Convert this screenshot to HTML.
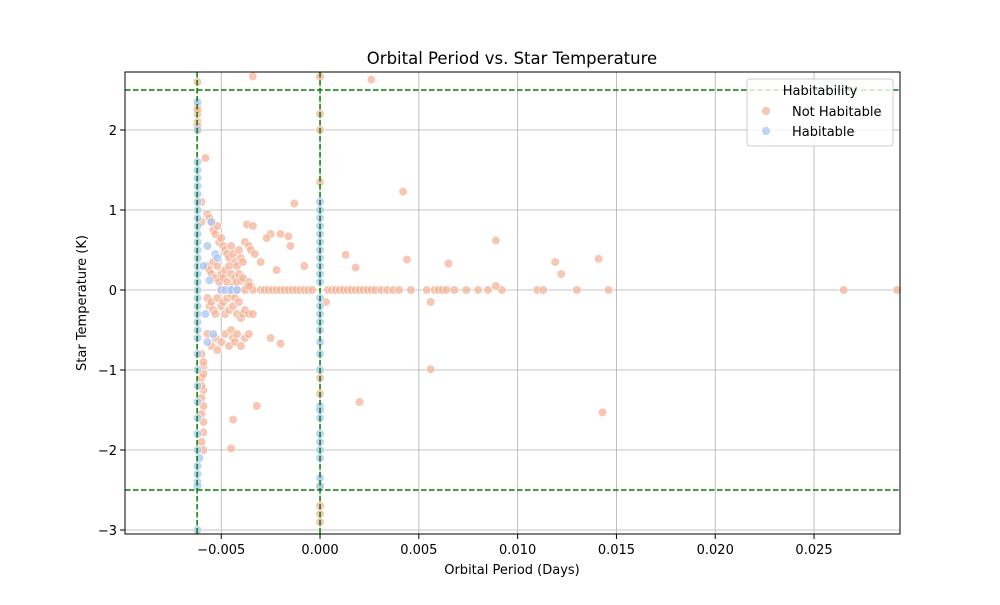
<!DOCTYPE html>
<html><head><meta charset="utf-8"><style>
body{margin:0;background:#fff;}
svg text{font-family:"DejaVu Sans","Liberation Sans",sans-serif;fill:#000;}
</style></head><body>
<svg id="chart" width="1000" height="600" xmlns="http://www.w3.org/2000/svg">
<rect width="1000" height="600" fill="#fff"/>
<g id="grid"></g>
<g id="pts"></g>
<g id="guides"></g>
<rect x="125" y="72" width="775" height="462" fill="none" stroke="#000" stroke-width="1"/>
<g id="xt"></g>
<g id="yt"></g>
<text x="512" y="64" font-size="16.5" text-anchor="middle">Orbital Period vs. Star Temperature</text>
<text x="512" y="574" font-size="13" text-anchor="middle">Orbital Period (Days)</text>
<text transform="translate(86,303) rotate(-90)" font-size="13" text-anchor="middle">Star Temperature (K)</text>
<g>
<rect x="747" y="79" width="146" height="67" rx="3" fill="#fff" fill-opacity="0.8" stroke="#ccc"/>
<text x="820" y="95" font-size="13" text-anchor="middle">Habitability</text>
<circle cx="766" cy="111" r="4.5" fill="#f4b49a" fill-opacity="0.75" stroke="#fff" stroke-width="0.8"/>
<text x="792" y="116" font-size="13">Not Habitable</text>
<circle cx="766" cy="131" r="4.5" fill="#aac7f5" fill-opacity="0.75" stroke="#fff" stroke-width="0.8"/>
<text x="792" y="136" font-size="13">Habitable</text>
</g>
</svg>
<script>
const xTicks=[-0.005,0,0.005,0.010,0.015,0.020,0.025];
const xTickLabels=["−0.005","0.000","0.005","0.010","0.015","0.020","0.025"];
const yTicks=[-3,-2,-1,0,1,2];
const yTickLabels=["−3","−2","−1","0","1","2"];
const vGuides=[-0.00622,0];
const hGuides=[2.5,-2.5];
const nhX=[-0.0062,-0.0062,-0.0062,-0.0062,-0.0062,-0.0058,-0.0060,-0.0060,-0.0059,-0.0060,-0.0059,-0.0060,-0.0059,-0.0060,-0.0059,-0.0059,-0.0060,-0.0059,-0.0060,-0.0059,-0.0060,-0.0059,-0.0062,-0.0062,
-0.0057,-0.0056,-0.0055,-0.0054,-0.0053,-0.0052,-0.0051,-0.0050,-0.0049,-0.0048,-0.0047,-0.0046,-0.0045,-0.0044,-0.0043,-0.0042,-0.0041,-0.0040,-0.0039,-0.0038,-0.0037,-0.0036,-0.0035,-0.0034,-0.0033,
-0.0057,-0.0056,-0.0055,-0.0054,-0.0053,-0.0052,-0.0051,-0.0050,-0.0049,-0.0048,-0.0047,-0.0046,-0.0045,-0.0044,-0.0043,-0.0042,-0.0041,-0.0040,-0.0039,-0.0037,-0.0036,-0.0035,
-0.0057,-0.0056,-0.0055,-0.0054,-0.0053,-0.0052,-0.0050,-0.0049,-0.0048,-0.0047,-0.0046,-0.0045,-0.0044,-0.0043,-0.0042,-0.0041,-0.0040,-0.0039,-0.0038,-0.0036,
-0.0057,-0.0055,-0.0053,-0.0052,-0.0050,-0.0048,-0.0046,-0.0045,-0.0044,-0.0043,-0.0042,-0.0040,-0.0038,-0.0036,
-0.0050,-0.0046,-0.0042,-0.0038,-0.0034,-0.0030,-0.0028,-0.0026,-0.0024,-0.0022,-0.0020,-0.0018,-0.0016,-0.0014,-0.0012,-0.0010,-0.0008,-0.0006,-0.0004,0.0004,0.0006,0.0008,0.0010,0.0012,0.0014,0.0016,0.0018,0.0020,0.0022,0.0024,0.0026,0.0028,0.0031,0.0034,0.0037,0.0040,0.0046,0.0054,0.0058,0.0060,0.0062,0.0064,0.0068,0.0074,0.0080,0.0085,0.0092,0.0110,0.0113,0.0130,0.0146,
-0.0034,0.0026,0,0,0,-0.0013,0.0042,-0.0025,-0.0020,-0.0015,-0.0022,0.0013,0.0018,0.0044,0.0065,0.0089,0.0119,0.0122,0.0141,0.0089,0.0056,0.0003,-0.0025,-0.0020,0.0056,0.0020,-0.0032,-0.0044,-0.0045,0.0143,0.0265,0.0292,0,0,0,0,0,0,0,-0.0008,-0.0016,-0.0027,-0.0030,-0.0034,-0.0036];
const nhY=[2.6,2.3,2.2,2.1,2.0,1.65,1.1,0.85,-0.95,-1.1,-1.25,-1.35,-1.45,-1.55,-1.65,-1.78,-1.9,-2.0,-1.2,-0.9,-0.8,-1.05,2.25,2.05,
0.95,0.9,0.85,0.75,0.7,0.8,0.6,0.65,0.55,0.5,0.45,0.4,0.55,0.45,0.35,0.3,0.5,0.4,0.35,0.6,0.82,0.55,0.5,0.8,0.45,
0.3,0.25,0.2,0.35,0.15,0.3,0.1,0.2,0.15,0.25,0.1,0.3,0.2,0.05,0.15,0.1,0.2,0.12,0.15,0.05,0.1,0.05,
-0.1,-0.2,-0.15,-0.25,-0.3,-0.1,-0.2,-0.15,-0.3,-0.1,-0.25,-0.05,-0.2,-0.1,-0.3,-0.15,-0.35,-0.3,-0.25,-0.3,
-0.55,-0.7,-0.6,-0.75,-0.65,-0.55,-0.7,-0.5,-0.6,-0.65,-0.55,-0.7,-0.6,-0.55,
0,0,0,0,0,0,0,0,0,0,0,0,0,0,0,0,0,0,0,0,0,0,0,0,0,0,0,0,0,0,0,0,0,0,0,0,0,0,0,0,0,0,0,0,0,0,0,0,0,0,0,
2.67,2.63,2.67,2.2,1.35,1.08,1.23,0.7,0.7,0.55,0.25,0.44,0.28,0.38,0.33,0.62,0.35,0.2,0.39,0.05,-0.15,-0.15,-0.6,-0.67,-0.99,-1.4,-1.45,-1.62,-1.98,-1.53,0,0,-2.8,-2.9,-2.45,-1.1,-1.3,-2.7,2.0,0.3,0.67,0.65,0.35,-0.3,0.05];
const hX=[-0.0062,-0.0062,-0.0062,-0.0062,-0.0062,-0.0062,-0.0062,-0.0062,-0.0062,-0.0062,-0.0062,-0.0062,-0.0062,-0.0062,-0.0062,-0.0062,-0.0062,-0.0062,-0.0062,-0.0062,-0.0062,-0.0062,-0.0062,-0.0062,-0.0062,-0.0062,-0.0062,-0.0062,-0.0062,-0.0062,-0.0062,-0.0062,-0.0062,-0.0062,-0.0062,-0.0062,-0.0062,-0.0061,
-0.0055,-0.0057,-0.0053,-0.0059,-0.0056,-0.0052,-0.0058,-0.0054,-0.0057,-0.0050,-0.0048,-0.0044,-0.0045,-0.0042,
0,0,0,0,0,0,0,0,0,0,0,0,0,0,0,0,0,0,0,0,0,0,0,0,0,0,0,0];
const hY=[2.35,2.0,1.6,1.5,1.4,1.3,1.2,1.1,1.0,0.9,0.8,0.7,0.6,0.5,0.4,0.3,0.2,0.1,0,-0.1,-0.2,-0.3,-0.4,-0.5,-0.6,-0.8,-1.0,-1.2,-1.4,-1.6,-1.8,-2.0,-2.2,-2.3,-2.4,-2.45,-3.0,-2.1,
0.85,0.55,0.45,0.3,0.12,0.4,-0.3,-0.55,-0.65,0,0,0,0,0,
1.1,1.0,0.9,0.8,0.7,0.6,0.5,0.4,0.3,0.2,0.1,-0.1,-0.2,-0.3,-0.4,-0.5,-0.65,-0.8,-1.0,-1.45,-1.5,-1.6,-1.8,-1.9,-2.0,-2.1,-2.35,-2.45];
const X0=125,X1=900,Y0=534,Y1=72,XMIN=-0.00987,XMAX=0.02935,YMIN=-3.05,YMAX=2.725;
const sx=v=>X0+(v-XMIN)/(XMAX-XMIN)*(X1-X0);
const sy=v=>Y0-(v-YMIN)/(YMAX-YMIN)*(Y0-Y1);
const NS="http://www.w3.org/2000/svg";
function mk(tag,attrs,parent){const e=document.createElementNS(NS,tag);for(const k in attrs)e.setAttribute(k,attrs[k]);parent.appendChild(e);return e;}
const grid=document.getElementById('grid'),xt=document.getElementById('xt'),yt=document.getElementById('yt');
xTicks.forEach((t,i)=>{const x=sx(t);
const g=mk('line',{x1:x,x2:x,y1:Y1,y2:Y0,stroke:'#b0b0b0','stroke-width':0.8},grid);


const tk=mk('line',{x1:x,x2:x,y1:Y0,y2:Y0+5,stroke:'#000'},xt);


const l=mk('text',{x:x,y:Y0+20,'font-size':13,'text-anchor':'middle'},xt);l.textContent=xTickLabels[i];

});
yTicks.forEach((t,i)=>{const y=sy(t);
const g=mk('line',{x1:X0,x2:X1,y1:y,y2:y,stroke:'#b0b0b0','stroke-width':0.8},grid);


const tk=mk('line',{x1:X0-5,x2:X0,y1:y,y2:y,stroke:'#000'},yt);


const l=mk('text',{x:X0-8,y:y+5,'font-size':13,'text-anchor':'end'},yt);l.textContent=yTickLabels[i];

});
const pts=document.getElementById('pts');
nhX.forEach((v,i)=>{const c=mk('circle',{cx:sx(v),cy:sy(nhY[i]),r:4.3,fill:'#f4b49a','fill-opacity':0.75,stroke:'#fff','stroke-width':0.6},pts);

});
hX.forEach((v,i)=>{const c=mk('circle',{cx:sx(v),cy:sy(hY[i]),r:4.3,fill:'#aac7f5','fill-opacity':0.75,stroke:'#fff','stroke-width':0.6},pts);

});
const gd=document.getElementById('guides');
vGuides.forEach(v=>{const l=mk('line',{x1:sx(v),x2:sx(v),y1:Y1,y2:Y0,stroke:'#008000','stroke-width':1.5,'stroke-dasharray':'5.5,2.5'},gd);

});
hGuides.forEach(v=>{const l=mk('line',{x1:X0,x2:X1,y1:sy(v),y2:sy(v),stroke:'#008000','stroke-width':1.5,'stroke-dasharray':'5.5,2.5'},gd);

});
</script>
</body></html>
